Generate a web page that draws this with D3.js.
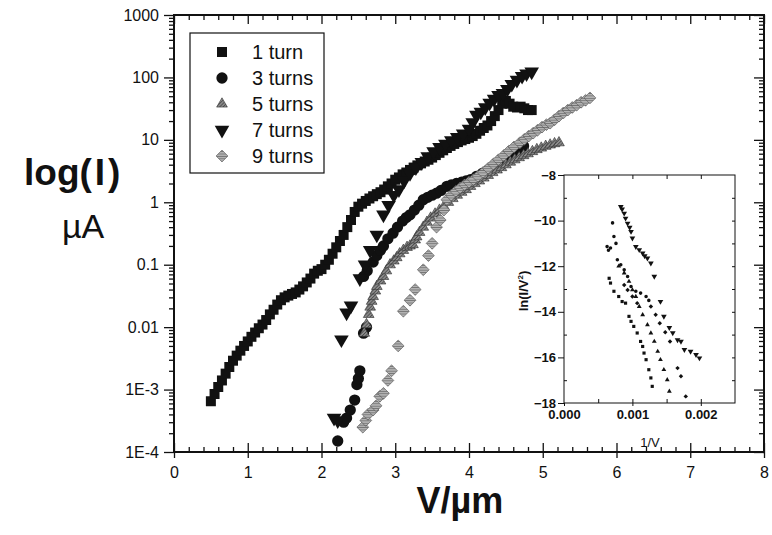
<!DOCTYPE html>
<html>
<head>
<meta charset="utf-8">
<script src="https://cdn.jsdelivr.net/npm/d3@7"></script>
<style>
  body { margin: 0; background: #fff; }
  text { font-family: Arial, "Liberation Sans", sans-serif; fill: #111; }
</style>
</head>
<body>
<svg id="chart"></svg>
<script>
// ---- data: V/um and current in uA ----
const turn1V = [0.50,0.55,0.60,0.65,0.70,0.75,0.80,0.85,0.90,0.95,1.00,1.05,1.10,1.15,1.20,1.25,1.30,1.35,1.40,1.45,1.50,1.55,1.60,1.65,1.70,1.75,1.80,1.85,1.90,1.95,2.00,2.05,2.10,2.15,2.20,2.25,2.30,2.35,2.40,2.45,2.50,2.55,2.60,2.65,2.70,2.75,2.80,2.85,2.90,2.95,3.00,3.05,3.10,3.15,3.20,3.25,3.30,3.35,3.40,3.45,3.50,3.55,3.60,3.65,3.70,3.75,3.80,3.85,3.90,3.95,4.00,4.05,4.10,4.15,4.20,4.25,4.30,4.35,4.40,4.45,4.50,4.55,4.60,4.65,4.70,4.75,4.80,4.85];
const turn1I = [0.00065,0.00085,0.0011,0.0014,0.0018,0.0023,0.0029,0.0035,0.0042,0.0050,0.0059,0.0070,0.0082,0.0096,0.011,0.013,0.016,0.019,0.023,0.027,0.030,0.032,0.034,0.036,0.040,0.045,0.052,0.060,0.072,0.080,0.085,0.10,0.12,0.15,0.19,0.24,0.30,0.40,0.52,0.70,0.85,0.95,1.05,1.15,1.25,1.35,1.45,1.6,1.8,2.0,2.3,2.5,2.8,3.0,3.3,3.6,3.9,4.2,4.5,4.8,5.2,5.7,6.2,6.8,7.4,8.0,8.6,9.2,9.8,10.3,10.8,11.5,12.5,14,15.5,17,20,24,30,38,42,38,34,33,34,32,30,30];

const turn3V = [2.22,2.30,2.34,2.39,2.45,2.48,2.50,2.52,2.57,2.61,2.57,2.62,2.70,2.75,2.80,2.84,2.90,2.97,3.03,3.10,3.15,3.20,3.26,3.32,3.38,3.44,3.50,3.56,3.62,3.70,3.76,3.83,3.90,3.96,4.02,4.10,4.18,4.26,4.34,4.42,4.50,4.56,4.62,4.68,4.74];
const turn3I = [0.00015,0.0003,0.00035,0.00047,0.00068,0.0012,0.0015,0.002,0.008,0.010,0.065,0.08,0.11,0.14,0.17,0.20,0.26,0.32,0.40,0.50,0.57,0.63,0.75,0.90,1.1,1.2,1.3,1.4,1.55,1.8,1.9,2.0,2.1,2.2,2.3,2.6,2.9,3.3,3.8,4.4,5.0,5.6,6.4,7.2,8.0];

const turn5V = [2.58,2.61,2.64,2.66,2.68,2.70,2.73,2.75,2.80,2.84,2.88,2.93,2.98,3.02,3.06,3.11,3.16,3.20,3.24,3.27,3.29,3.33,3.38,3.43,3.48,3.54,3.60,3.66,3.72,3.78,3.84,3.90,3.96,4.02,4.08,4.14,4.20,4.26,4.32,4.38,4.44,4.50,4.56,4.62,4.68,4.74,4.80,4.86,4.92,4.98,5.04,5.10,5.16,5.22];
const turn5I = [0.008,0.011,0.016,0.021,0.026,0.031,0.038,0.045,0.055,0.065,0.08,0.10,0.115,0.13,0.15,0.17,0.19,0.20,0.21,0.25,0.28,0.33,0.40,0.48,0.56,0.65,0.75,0.86,1.0,1.15,1.3,1.45,1.6,1.8,2.0,2.2,2.45,2.7,3.0,3.3,3.6,4.0,4.4,4.8,5.2,5.6,6.0,6.5,7.0,7.4,7.9,8.3,8.7,9.0];

const turn7V = [2.17,2.22,2.27,2.34,2.40,2.52,2.59,2.66,2.75,2.84,2.91,2.98,3.05,3.12,3.20,3.28,3.36,3.44,3.52,3.60,3.68,3.76,3.84,3.92,4.00,4.05,4.10,4.16,4.22,4.28,4.34,4.40,4.46,4.52,4.58,4.65,4.72,4.78,4.85];
const turn7I = [0.00035,0.00032,0.0063,0.017,0.022,0.06,0.10,0.17,0.30,0.63,0.9,1.3,1.6,2.2,2.9,3.6,4.4,5.4,6.5,7.6,8.6,9.8,11,12.5,15,19,25,28,33,39,45,52,56,65,78,91,105,115,123];

const turn9V = [2.56,2.60,2.63,2.70,2.74,2.79,2.84,2.90,2.95,3.04,3.11,3.20,3.27,3.38,3.45,3.50,3.56,3.61,3.66,3.70,3.76,3.82,3.88,3.94,4.00,4.06,4.12,4.19,4.26,4.33,4.40,4.47,4.54,4.61,4.69,4.75,4.81,4.87,4.93,4.99,5.05,5.10,5.16,5.22,5.28,5.34,5.40,5.46,5.52,5.58,5.64];
const turn9I = [0.00025,0.00032,0.0004,0.00047,0.00055,0.00078,0.00087,0.0014,0.002,0.005,0.018,0.027,0.04,0.083,0.14,0.22,0.40,0.52,0.75,1.1,1.3,1.5,1.7,1.9,2.1,2.3,2.6,3.0,3.5,4.1,4.8,5.6,6.6,7.7,9.0,10.2,11.5,12.8,14.3,16,17.5,18.5,21,24,27,30,33,36,40,43,47];

// inset: 1/V against ln(I/V^2)
const inset1X = [0.00066,0.00068,0.00073,0.00080,0.00085,0.00090,0.00095,0.00098,0.00102,0.00107,0.00112,0.00115,0.00117,0.00120,0.00124,0.00127,0.00129];
const inset1Y = [-12.53,-12.74,-13.1,-13.33,-13.55,-13.62,-14.2,-14.42,-14.64,-14.93,-15.3,-15.52,-15.81,-16.1,-16.54,-16.9,-17.27];
const inset3X = [0.00063,0.00065,0.00068,0.00071,0.00073,0.00076,0.00078,0.00083,0.00088,0.00093,0.00098,0.00105,0.00112,0.00120,0.00124];
const inset3Y = [-11.14,-11.3,-11.2,-10.1,-10.7,-11.0,-11.72,-11.94,-12.16,-12.45,-12.89,-13.1,-13.18,-13.33,-13.5];
const inset5X = [0.00080,0.00088,0.00095,0.00100,0.00105,0.00110,0.00115,0.00122,0.00127,0.00132,0.00137,0.00141,0.00146,0.00151,0.00154];
const inset5Y = [-12.0,-12.3,-12.67,-13.04,-13.33,-13.77,-14.13,-14.57,-14.93,-15.3,-15.74,-16.1,-16.54,-16.98,-17.49];
const inset7X = [0.00083,0.00085,0.00088,0.00090,0.00093,0.00096,0.00098,0.00100,0.00105,0.00110,0.00115,0.00118,0.00122,0.00127,0.00132,0.00141,0.00146,0.00154,0.00159,0.00166,0.00171,0.00176,0.00185,0.00193,0.00198];
const inset7Y = [-9.39,-9.5,-9.68,-9.9,-10.12,-10.3,-10.48,-10.77,-11.14,-11.28,-11.43,-11.55,-11.65,-11.87,-12.45,-13.55,-14.2,-14.7,-14.93,-15.23,-15.3,-15.66,-15.74,-15.88,-16.03];
const inset9X = [0.00088,0.00093,0.00100,0.00107,0.00127,0.00134,0.00140,0.00148,0.00155,0.00166,0.00171,0.00178];
const inset9Y = [-12.82,-13.04,-13.33,-13.62,-13.77,-14.13,-14.5,-14.9,-15.3,-16.47,-16.83,-17.71];

const legendLabels = ["1 turn", "3 turns", "5 turns", "7 turns", "9 turns"];
const yTickVals = [1e-4, 1e-3, 0.01, 0.1, 1, 10, 100, 1000];
const yTickText = ["1E-4", "1E-3", "0.01", "0.1", "1", "10", "100", "1000"];
const xTickVals = [0, 1, 2, 3, 4, 5, 6, 7, 8];
const insetYTicks = [-18, -16, -14, -12, -10, -8];
const insetXTicks = [0, 0.001, 0.002];

// ---- layout ----
const margin = {top: 15, right: 8, bottom: 83, left: 174},
    width = 772 - margin.left - margin.right,
    height = 535 - margin.top - margin.bottom;

const svg = d3.select("#chart")
    .attr("width", 772)
    .attr("height", 535);

// hatched grey fills for the 5 and 9 turn markers
const defs = svg.append("defs");
function hatch(id, bg, fg) {
    const p = defs.append("pattern")
        .attr("id", id)
        .attr("width", 2.4).attr("height", 2.4)
        .attr("patternUnits", "userSpaceOnUse")
        .attr("patternTransform", "rotate(45)");
    p.append("rect").attr("width", 2.4).attr("height", 2.4).attr("fill", bg);
    p.append("line").attr("x1", 0).attr("y1", 0).attr("x2", 0).attr("y2", 2.4)
        .attr("stroke", fg).attr("stroke-width", 1.1);
}
hatch("hatch5", "#8a8a8a", "#2e2e2e");
hatch("hatch9", "#b2b2b2", "#555");

const g = svg.append("g")
    .attr("transform", `translate(${margin.left}, ${margin.top})`);

const x = d3.scaleLinear().domain([0, 8]).range([0, width]);
const y = d3.scaleLog().domain([1e-4, 1000]).range([height, 0]);

const styles = [
    {sym: d3.symbolSquare, size: 100, rot: 0, fill: "#111", stroke: "none"},
    {sym: d3.symbolCircle, size: 100, rot: 0, fill: "#111", stroke: "none"},
    {sym: d3.symbolTriangle, size: 50, rot: 0, fill: "url(#hatch5)", stroke: "#333"},
    {sym: d3.symbolTriangle, size: 92, rot: 180, fill: "#111", stroke: "none"},
    {sym: d3.symbolSquare, size: 70, rot: 45, fill: "url(#hatch9)", stroke: "#555"}
];
const mainSeries = [
    [turn1V, turn1I], [turn3V, turn3I], [turn5V, turn5I], [turn7V, turn7I], [turn9V, turn9I]
];

// ---- axes ----
const minorY = y.ticks().filter(v => !yTickVals.includes(v));
const minorX = d3.range(0, 8.001, 0.2).filter(v => Math.abs(v - Math.round(v)) > 0.01);

function tidy(sel) {
    sel.select(".domain").remove();
    sel.selectAll("line").attr("stroke", "#111").attr("stroke-width", 1.3);
}

// left: ticks outwards
g.append("g").call(d3.axisLeft(y).tickValues(yTickVals).tickSize(10).tickPadding(5)
        .tickFormat((d, i) => yTickText[i]))
    .call(tidy)
    .selectAll("text").style("font-size", "16px");
g.append("g").call(d3.axisLeft(y).tickValues(minorY).tickSize(5).tickFormat(""))
    .call(tidy);
// right: ticks inwards
g.append("g").attr("transform", `translate(${width},0)`)
    .call(d3.axisRight(y).tickValues(yTickVals).tickSize(-10).tickFormat(""))
    .call(tidy);
g.append("g").attr("transform", `translate(${width},0)`)
    .call(d3.axisRight(y).tickValues(minorY).tickSize(-5).tickFormat(""))
    .call(tidy);
// bottom: major ticks cross the line, minor point up
g.append("g").attr("transform", `translate(0,${height})`)
    .call(d3.axisBottom(x).tickValues(xTickVals).tickSize(6).tickPadding(9))
    .call(tidy)
    .selectAll("text").style("font-size", "16px");
g.append("g").attr("transform", `translate(0,${height})`)
    .call(d3.axisBottom(x).tickValues(xTickVals).tickSize(-9).tickFormat(""))
    .call(tidy);
g.append("g").attr("transform", `translate(0,${height})`)
    .call(d3.axisBottom(x).tickValues(minorX).tickSize(-5).tickFormat(""))
    .call(tidy);
// top: ticks pointing down
g.append("g")
    .call(d3.axisTop(x).tickValues(xTickVals).tickSize(-9).tickFormat(""))
    .call(tidy);
g.append("g")
    .call(d3.axisTop(x).tickValues(minorX).tickSize(-5).tickFormat(""))
    .call(tidy);

g.append("rect")
    .attr("width", width).attr("height", height)
    .attr("fill", "none").attr("stroke", "#111").attr("stroke-width", 2);

// ---- markers ----
mainSeries.forEach(function (s, k) {
    const st = styles[k];
    const pts = s[0].map((v, i) => [v, s[1][i]]);
    g.append("g").selectAll("path")
        .data(pts)
        .enter().append("path")
        .attr("d", d3.symbol().type(st.sym).size(st.size))
        .attr("transform", d => `translate(${x(d[0])},${y(d[1])}) rotate(${st.rot})`)
        .attr("fill", st.fill)
        .attr("stroke", st.stroke)
        .attr("stroke-width", 0.6);
});

// ---- legend ----
const legend = svg.append("g").attr("transform", "translate(190,33)");
legend.append("rect")
    .attr("width", 134).attr("height", 140)
    .attr("fill", "#fff").attr("stroke", "#111").attr("stroke-width", 1.2);
legendLabels.forEach(function (lab, i) {
    const st = styles[i];
    const ly = 19 + i * 26;
    legend.append("path")
        .attr("d", d3.symbol().type(st.sym).size(st.size)())
        .attr("transform", `translate(32,${ly}) rotate(${st.rot})`)
        .attr("fill", st.fill).attr("stroke", st.stroke).attr("stroke-width", 0.6);
    legend.append("text")
        .attr("x", 62).attr("y", ly + 7)
        .style("font-size", "20px")
        .text(lab);
});

// ---- axis titles ----
const yt = svg.append("text")
    .attr("x", 24).attr("y", 185)
    .style("font-size", "37px").style("font-weight", "bold")
    .text("log(");
yt.append("tspan").attr("dx", 3).text("I");
yt.append("tspan").attr("dx", 3).text(")");
svg.append("text")
    .attr("x", 62).attr("y", 238)
    .style("font-size", "34px")
    .text("\u00b5A");
svg.append("text")
    .attr("x", 460).attr("y", 513)
    .attr("text-anchor", "middle")
    .style("font-size", "36px").style("font-weight", "bold")
    .text("V/\u00b5m");

// ---- inset ----
const ix = d3.scaleLinear().domain([0, 0.0025]).range([564, 735]);
const iy = d3.scaleLinear().domain([-18, -8]).range([403, 175]);
const inset = svg.append("g");

inset.append("g").attr("transform", "translate(564,0)")
    .call(d3.axisLeft(iy).tickValues(insetYTicks).tickSize(6).tickPadding(2))
    .call(tidy)
    .selectAll("text").style("font-size", "13px").style("font-weight", "bold");
inset.append("g").attr("transform", "translate(564,0)")
    .call(d3.axisLeft(iy).tickValues(d3.range(-17, -8, 2)).tickSize(-3).tickFormat(""))
    .call(tidy);
inset.append("g").attr("transform", "translate(735,0)")
    .call(d3.axisRight(iy).tickValues(d3.range(-17, -8, 1)).tickSize(-3).tickFormat(""))
    .call(tidy);
inset.append("g").attr("transform", "translate(0,403)")
    .call(d3.axisBottom(ix).tickValues(insetXTicks).tickSize(3).tickPadding(4)
        .tickFormat(d3.format(".3f")))
    .call(tidy)
    .selectAll("text").style("font-size", "13px").style("font-weight", "bold");
inset.append("g").attr("transform", "translate(0,403)")
    .call(d3.axisBottom(ix).tickValues([0.0005, 0.001, 0.0015, 0.002]).tickSize(-4).tickFormat(""))
    .call(tidy);
inset.append("g").attr("transform", "translate(0,175)")
    .call(d3.axisTop(ix).tickValues([0.0005, 0.001, 0.0015, 0.002]).tickSize(-4).tickFormat(""))
    .call(tidy);
inset.selectAll("line").attr("stroke-width", 1);
inset.append("rect")
    .attr("x", 564).attr("y", 175)
    .attr("width", 171).attr("height", 228)
    .attr("fill", "none").attr("stroke", "#111").attr("stroke-width", 1);

const insetSeries = [
    [inset1X, inset1Y], [inset3X, inset3Y], [inset5X, inset5Y], [inset7X, inset7Y], [inset9X, inset9Y]
];
insetSeries.forEach(function (s, k) {
    const st = styles[k];
    const pts = s[0].map((v, i) => [v, s[1][i]]);
    inset.append("g").selectAll("path")
        .data(pts)
        .enter().append("path")
        .attr("d", d3.symbol().type(st.sym).size(k === 3 ? 14 : 10))
        .attr("transform", d => `translate(${ix(d[0])},${iy(d[1])}) rotate(${st.rot})`)
        .attr("fill", "#111");
});

const il = inset.append("text")
    .attr("transform", "translate(528,291) rotate(-90)")
    .attr("text-anchor", "middle")
    .style("font-size", "13px").style("font-weight", "bold")
    .text("ln(I/V");
il.append("tspan").attr("dy", -5).style("font-size", "8px").text("2");
il.append("tspan").attr("dy", 5).text(")");
inset.append("text")
    .attr("x", 650).attr("y", 447)
    .attr("text-anchor", "middle")
    .style("font-size", "13px")
    .text("1/V");
</script>
</body>
</html>
